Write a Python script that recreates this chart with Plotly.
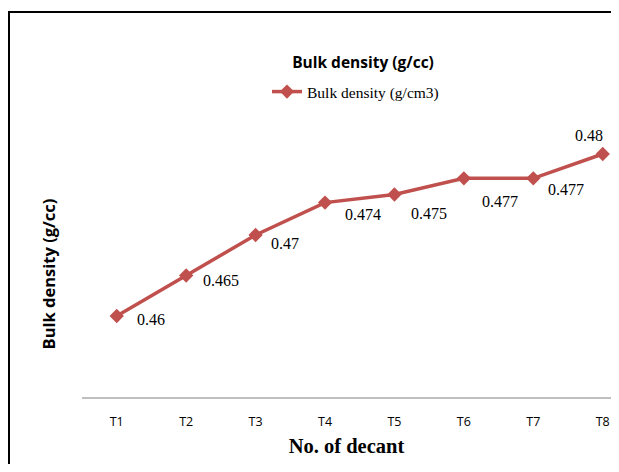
import plotly.graph_objects as go

categories = ["T1", "T2", "T3", "T4", "T5", "T6", "T7", "T8"]
bulk_density = [0.46, 0.465, 0.47, 0.474, 0.475, 0.477, 0.477, 0.48]
label_text = ["0.46", "0.465", "0.47", "0.474", "0.475", "0.477", "0.477", "0.48"]

# data-label offsets in px (layout only)
label_dx = [34, 35, 29, 38, 35, 36, 33, -14]
label_dy = [-3, -5, -8, -12, -19, -23, -11, 19]

# the page shows the figure 8px in from the window edge; usable area 603 x 456
W, H = 603, 456
L, R, T = 74, 0, 143
AXIS_Y = 389
B = H - AXIS_Y
pw, ph = W - L - R, H - T - B
px_per_cat = 69.43
px_per_unit = 8100.0

red = "#C0504D"
sans = "'Open Sans', Lato, sans-serif"
serif = "'Liberation Serif', 'Times New Roman', serif"

fig = go.Figure()
fig.add_trace(go.Scatter(
    x=categories, y=bulk_density, mode="lines+markers",
    name="Bulk density (g/cm3)",
    line=dict(color=red, width=3.5),
    marker=dict(symbol="diamond", size=11, color=red),
    cliponaxis=False,
))

for c, v, t, dx, dy in zip(categories, bulk_density, label_text, label_dx, label_dy):
    fig.add_annotation(x=c, y=v, text=t, showarrow=False, xshift=dx, yshift=dy,
                       font=dict(family=serif, size=16, color="#000"))

# chart border (cropped on right/bottom)
fig.add_shape(type="rect", xref="paper", yref="paper",
              x0=(1 - L) / pw, x1=1.3, y0=-0.8, y1=(AXIS_Y - 4) / ph,
              line=dict(color="#000", width=2), layer="above")

fig.update_layout(
    width=W, height=H,
    margin=dict(l=L, r=R, t=T, b=B),
    paper_bgcolor="white", plot_bgcolor="white",
    title=dict(text="<b>Bulk density (g/cc)</b>", x=355 / W, xanchor="center",
               y=1 - 55 / H, yanchor="middle",
               font=dict(family=sans, size=15.5, color="#000")),
    legend=dict(orientation="h", x=(259 - L) / pw, xanchor="left",
                y=(AXIS_Y - 84) / ph, yanchor="middle",
                font=dict(family=serif, size=15.5, color="#000"),
                bgcolor="rgba(0,0,0,0)"),
    showlegend=True,
    xaxis=dict(range=[-0.5, -0.5 + pw / px_per_cat], showgrid=False, zeroline=False,
               showline=True, linecolor="#BFBFBF", linewidth=1.5, ticks="",
               ticklabelstandoff=12,
               tickfont=dict(family=sans, size=12.5, color="#000"),
               title=dict(text="<b>No. of decant</b>", standoff=10,
                          font=dict(family=serif, size=20.5, color="#000"))),
    yaxis=dict(range=[0.45, 0.45 + ph / px_per_unit], showgrid=False, zeroline=False,
               showline=False, showticklabels=False, ticks="",
               title=dict(text="<b>Bulk density (g/cc)</b>", standoff=21,
                          font=dict(family=sans, size=16.5, color="#000"))),
)

fig.write_html("out.html")
